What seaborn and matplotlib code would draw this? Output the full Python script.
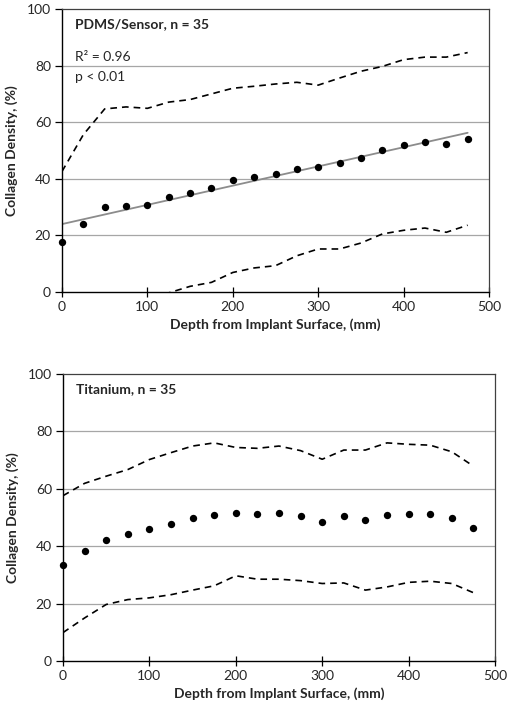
import numpy as np
import pandas as pd
import matplotlib
matplotlib.use("Agg")
import matplotlib.pyplot as plt
import seaborn as sns

sns.set_style("white")
plt.rcParams['font.family'] = ['Lato', 'DejaVu Sans']

depth = [0, 25, 50, 75, 100, 125, 150, 175, 200, 225, 250, 275, 300, 325, 350, 375, 400, 425, 450, 475]

pdms_mean = [17.7, 24.1, 30.0, 30.5, 30.9, 33.6, 34.9, 36.7, 39.5, 40.5, 41.7, 43.5, 44.3, 45.6, 47.5, 50.2, 51.8, 52.9, 52.4, 54.2]
pdms_upper = [42.6, 55.6, 64.7, 65.4, 64.9, 67.1, 68.0, 70.0, 72.0, 72.7, 73.5, 74.1, 73.1, 75.6, 78.0, 79.7, 82.1, 83.0, 83.0, 84.6]
pdms_lower = [-7.2, -7.4, -4.7, -4.4, -3.1, -0.3, 2.0, 3.4, 6.9, 8.5, 9.3, 12.8, 15.2, 15.2, 17.3, 20.5, 21.8, 22.6, 21.1, 23.6]

ti_mean = [33.6, 38.4, 42.1, 44.1, 45.9, 47.6, 49.7, 51.0, 51.7, 51.3, 51.5, 50.5, 48.5, 50.5, 49.1, 51.0, 51.3, 51.3, 49.9, 46.2]
ti_upper = [57.6, 61.9, 64.4, 66.7, 70.2, 72.6, 74.9, 76.0, 74.4, 74.1, 74.9, 73.3, 70.3, 73.5, 73.5, 76.0, 75.5, 75.2, 72.9, 67.9]
ti_lower = [9.9, 15.0, 19.7, 21.4, 22.0, 23.1, 24.7, 26.2, 29.7, 28.5, 28.5, 28.0, 27.0, 27.2, 24.7, 25.8, 27.4, 27.8, 27.0, 23.8]

titles = ["PDMS/Sensor, n = 35", "Titanium, n = 35"]
x_ticks = [0, 100, 200, 300, 400, 500]
y_ticks = [0, 20, 40, 60, 80, 100]
xlabel = "Depth from Implant Surface, (mm)"
ylabel = "Collagen Density, (%)"

W, H = 512, 713
fig = plt.figure(figsize=(W / 100, H / 100), dpi=100)

def axrect(l, t, r, b):
    return [l / W, 1 - b / H, (r - l) / W, (b - t) / H]

ax1 = fig.add_axes(axrect(62, 9, 489, 292))
ax2 = fig.add_axes(axrect(63, 374, 495, 661))

def style(ax, title):
    ax.set_xlim(0, 500)
    ax.set_ylim(0, 100)
    ax.set_xticks(x_ticks)
    ax.set_yticks(y_ticks)
    ax.grid(False)
    for v in y_ticks[1:-1]:
        ax.axhline(v, color='#a6a6a6', lw=0.9, zorder=0)
    for s in ['top', 'right']:
        ax.spines[s].set_color('#404040')
        ax.spines[s].set_linewidth(0.9)
    for s in ['left', 'bottom']:
        ax.spines[s].set_color('black')
        ax.spines[s].set_linewidth(1.0)
    ax.tick_params(axis='x', which='major', direction='inout', length=7, width=0.9,
                   labelsize=10, color='black', pad=3, bottom=True)
    ax.tick_params(axis='y', which='major', direction='out', length=5, width=0.9,
                   labelsize=10, color='black', pad=3, left=True)
    ax.set_xlabel(xlabel, fontsize=10, fontweight='bold', labelpad=4)
    ax.set_ylabel(ylabel, fontsize=10, fontweight='bold', labelpad=6)
    ax.text(0.03, 0.947, title, transform=ax.transAxes, fontsize=10,
            fontweight='bold', va='center', ha='left')

def draw(ax, mean, upper, lower):
    df = pd.DataFrame({'depth': depth, 'mean': mean, 'upper': upper, 'lower': lower})
    for col in ['upper', 'lower']:
        sns.lineplot(data=df, x='depth', y=col, ax=ax, color='black', lw=1.2,
                     dashes=False, linestyle=(0, (4, 3)))
    sns.scatterplot(data=df, x='depth', y='mean', ax=ax, color='black', s=28,
                    edgecolor='black', linewidth=0, zorder=5, clip_on=False)
    return df

df1 = draw(ax1, pdms_mean, pdms_upper, pdms_lower)
sns.regplot(data=df1, x='depth', y='mean', ax=ax1, scatter=False, ci=None,
            line_kws={'color': '#8c8c8c', 'lw': 1.3})
ax1.text(0.03, 0.83, "R² = 0.96", transform=ax1.transAxes, fontsize=10, va='center')
ax1.text(0.03, 0.76, "p < 0.01", transform=ax1.transAxes, fontsize=10, va='center')
style(ax1, titles[0])

draw(ax2, ti_mean, ti_upper, ti_lower)
style(ax2, titles[1])

fig.savefig("out.png", dpi=100)
